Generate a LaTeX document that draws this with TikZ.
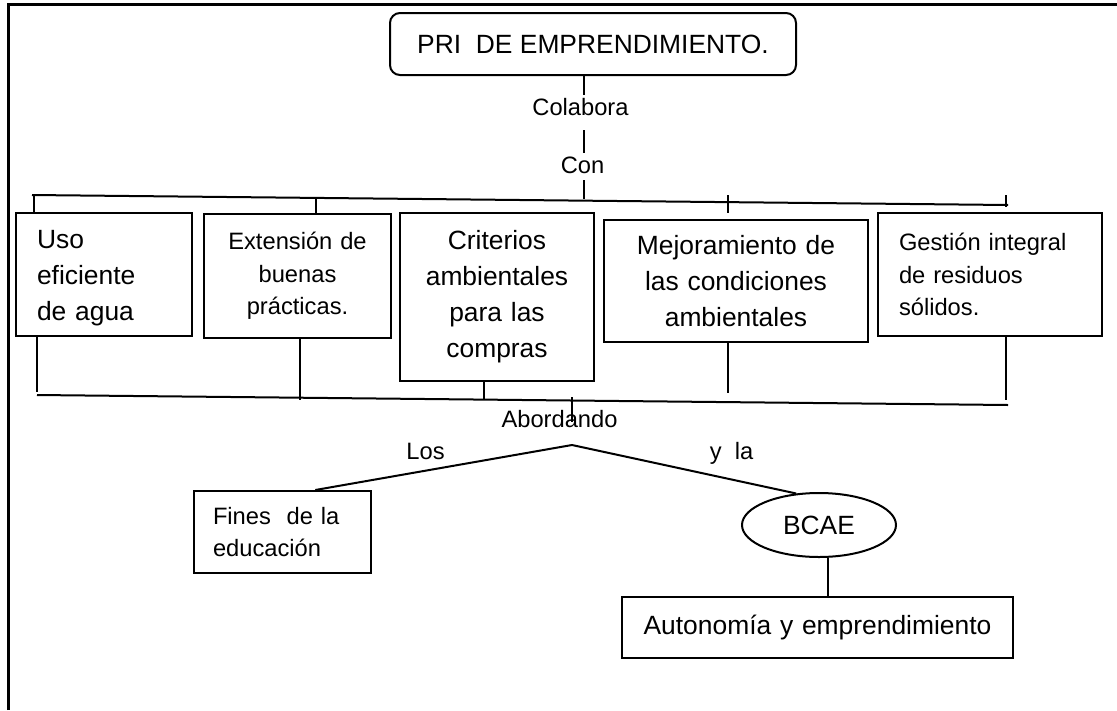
\documentclass[tikz,border=0pt]{standalone}
\usepackage{fontspec}
\setmainfont{Liberation Sans}
\usetikzlibrary{shapes.geometric}
\tikzset{
  grande/.style={font=\fontsize{26.4}{36}\selectfont},
  chica/.style={font=\fontsize{23.7}{32.5}\selectfont},
  linea/.style={line width=2pt},
  marco/.style={line width=3pt},
  caja/.style={draw, linea, inner sep=0pt, align=center},
  cajaizq/.style={draw, linea, inner ysep=0pt, align=left},
}

\begin{document}
\begin{tikzpicture}[x=1pt, y=-1pt]
  \useasboundingbox (0,0) rectangle (1117,710);
  \draw[marco] (8,710) -- (8,4) -- (1117,4);

  \node[caja, grande, rounded corners=10pt, minimum width=406pt, minimum height=62pt] (pri) at (593,44) {PRI\ \ DE EMPRENDIMIENTO.};
  \node[chica, anchor=base, inner sep=0pt] (colab) at (580.5,115) {Colabora};
  \node[chica, anchor=base, inner sep=0pt] (con)   at (582.5,173) {Con};

  \node[cajaizq, grande, inner xsep=21pt, text width=134pt, minimum height=123pt] (uso)    at (104,274.5) {\strut Uso\\eficiente\\de agua};
  \node[caja, chica, text width=187pt, minimum height=124pt]                      (ext)    at (297.5,276) {Extensión de\\buenas\\prácticas.};
  \node[caja, grande, text width=194pt, minimum height=168pt]                     (crit)   at (497,297)   {Criterios\\ambientales\\para las\\compras};
  \node[caja, grande, text width=264pt, minimum height=122pt]                     (mejora) at (736,281)   {Mejoramiento de\\las condiciones\\ambientales};
  \node[cajaizq, chica, inner xsep=21pt, text width=182pt, minimum height=123pt]  (gest)   at (990,274.5) {Gestión integral\\de residuos\\sólidos.};

  \node[chica, anchor=base, inner sep=0pt] (abord) at (559.5,427) {Abordando};
  \node[chica, anchor=base, inner sep=0pt] (los)   at (425.5,459) {Los};
  \node[chica, anchor=base, inner sep=0pt] (yla)   at (731.5,459) {y\ \ la};

  \node[cajaizq, chica, inner xsep=19pt, text width=139pt, minimum height=82pt] (fines) at (282.5,532) {Fines\ \ de la\\educación};
  \node[draw, linea, ellipse, grande, inner sep=0pt, minimum width=154pt, minimum height=64pt] (bcae) at (819,525) {BCAE};
  \node[caja, grande, text width=391pt, minimum height=61pt] (auto) at (817.5,627.5) {Autonomía y emprendimiento};

  \coordinate (a1) at (584,95);
  \coordinate (a2) at (584,130);
  \coordinate (a3) at (584,153);
  \coordinate (a4) at (584,180);
  \coordinate (a5) at (584,199);
  \coordinate (barI) at (32,195);
  \coordinate (barD) at (1008,205);
  \coordinate (t1) at (34,195);
  \coordinate (t2) at (316,198);
  \coordinate (t4a) at (728,195);
  \coordinate (t4b) at (728,213);
  \coordinate (t5a) at (1006,195);
  \coordinate (t5b) at (1006,207);
  \coordinate (bajI) at (37,395);
  \coordinate (bajD) at (1008,405);
  \coordinate (b1) at (37,392);
  \coordinate (b2) at (300,400);
  \coordinate (b3) at (484,400);
  \coordinate (b4) at (728,393);
  \coordinate (b5) at (1006,400);
  \coordinate (v1) at (572,397);
  \coordinate (v2) at (572,422);
  \coordinate (cima) at (572,445);

  \draw[linea] (pri.south -| a1) -- (a1);
  \draw[linea] (a2) -- (a3);
  \draw[linea] (a4) -- (a5);
  \draw[linea] (barI) -- (barD);
  \draw[linea] (t1) -- (uso.north -| t1);
  \draw[linea] (t2) -- (ext.north -| t2);
  \draw[linea] (t4a) -- (t4b);
  \draw[linea] (t5a) -- (t5b);

  \draw[linea] (uso.south -| b1) -- (b1);
  \draw[linea] (ext.south -| b2) -- (b2);
  \draw[linea] (crit.south -| b3) -- (b3);
  \draw[linea] (mejora.south -| b4) -- (b4);
  \draw[linea] (gest.south -| b5) -- (b5);
  \draw[linea] (bajI) -- (bajD);
  \draw[linea] (v1) -- (v2);

  \draw[linea] (cima) -- (fines.52);
  \draw[linea] (cima) -- (bcae.126);
  \draw[linea] (bcae.-74) -- (bcae.-74 |- auto.north);
\end{tikzpicture}
\end{document}
